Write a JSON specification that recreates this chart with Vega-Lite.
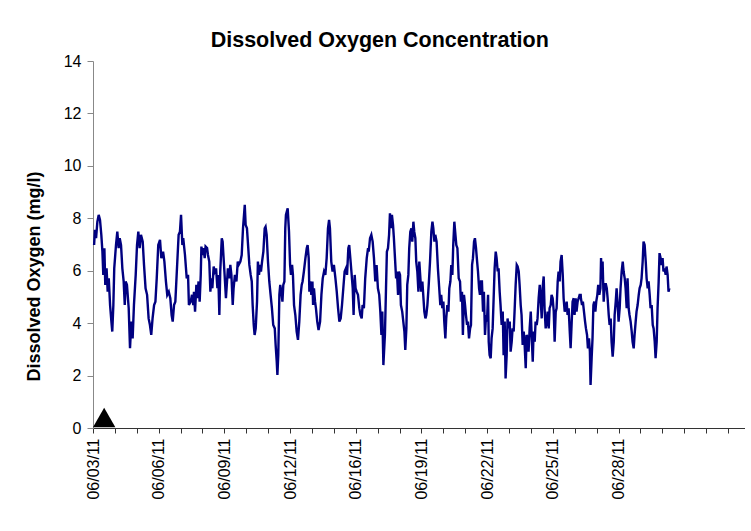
{
  "$schema": "https://vega.github.io/schema/vega-lite/v6.json",
  "width": 651.5,
  "height": 367,
  "autosize": "none",
  "padding": {"left": 93, "top": 61, "right": 6, "bottom": 103},
  "background": "white",
  "config": {"view": {"stroke": null}, "font": "Liberation Sans"},
  "title": {"text": "Dissolved Oxygen Concentration", "font": "Liberation Sans", "fontSize": 21.5, "fontWeight": "bold", "color": "black", "anchor": "middle", "dx": -39, "offset": 2},
  "datasets": {
    "do": [
      {"day":0.05,"value":6.98},{"day":0.09,"value":7.56},{"day":0.14,"value":7.24},{"day":0.20,"value":7.87},{"day":0.26,"value":8.13},{"day":0.32,"value":7.94},{"day":0.38,"value":7.37},{"day":0.43,"value":6.73},{"day":0.47,"value":5.84},{"day":0.52,"value":6.86},{"day":0.56,"value":5.46},{"day":0.62,"value":6.09},{"day":0.67,"value":5.20},{"day":0.72,"value":5.71},{"day":0.78,"value":4.69},{"day":0.84,"value":4.06},{"day":0.88,"value":3.68},{"day":0.93,"value":4.69},{"day":0.97,"value":6.09},{"day":1.05,"value":6.98},{"day":1.11,"value":7.49},{"day":1.17,"value":6.86},{"day":1.22,"value":7.24},{"day":1.28,"value":6.98},{"day":1.34,"value":6.09},{"day":1.40,"value":5.59},{"day":1.45,"value":4.69},{"day":1.49,"value":5.59},{"day":1.55,"value":5.46},{"day":1.63,"value":4.57},{"day":1.69,"value":3.04},{"day":1.75,"value":4.06},{"day":1.81,"value":3.42},{"day":1.87,"value":4.69},{"day":1.95,"value":5.84},{"day":2.01,"value":6.98},{"day":2.07,"value":7.49},{"day":2.13,"value":6.86},{"day":2.19,"value":7.37},{"day":2.27,"value":7.11},{"day":2.33,"value":6.22},{"day":2.40,"value":5.33},{"day":2.47,"value":5.08},{"day":2.54,"value":4.18},{"day":2.60,"value":3.93},{"day":2.66,"value":3.55},{"day":2.72,"value":4.18},{"day":2.79,"value":4.69},{"day":2.85,"value":4.82},{"day":2.91,"value":5.71},{"day":2.98,"value":6.98},{"day":3.06,"value":7.18},{"day":3.12,"value":6.48},{"day":3.20,"value":6.73},{"day":3.26,"value":6.35},{"day":3.33,"value":5.59},{"day":3.39,"value":5.08},{"day":3.46,"value":5.20},{"day":3.53,"value":4.95},{"day":3.59,"value":4.31},{"day":3.64,"value":4.06},{"day":3.70,"value":4.69},{"day":3.76,"value":4.82},{"day":3.85,"value":6.35},{"day":3.91,"value":7.37},{"day":3.97,"value":7.49},{"day":4.02,"value":8.13},{"day":4.08,"value":6.98},{"day":4.12,"value":7.24},{"day":4.20,"value":6.60},{"day":4.28,"value":5.71},
      {"day":4.34,"value":5.84},{"day":4.38,"value":4.69},{"day":4.46,"value":4.82},{"day":4.52,"value":5.08},{"day":4.58,"value":4.69},{"day":4.61,"value":5.20},{"day":4.66,"value":4.44},{"day":4.72,"value":5.46},{"day":4.76,"value":4.95},{"day":4.82,"value":5.59},{"day":4.87,"value":4.82},{"day":4.92,"value":5.84},{"day":4.95,"value":6.92},{"day":5.01,"value":6.60},{"day":5.05,"value":6.86},{"day":5.10,"value":6.48},{"day":5.14,"value":6.92},{"day":5.21,"value":6.86},{"day":5.25,"value":6.60},{"day":5.31,"value":6.35},{"day":5.36,"value":5.20},{"day":5.40,"value":5.71},{"day":5.45,"value":5.33},{"day":5.51,"value":6.16},{"day":5.56,"value":5.97},{"day":5.62,"value":6.09},{"day":5.68,"value":5.33},{"day":5.72,"value":5.84},{"day":5.77,"value":4.31},{"day":5.81,"value":5.97},{"day":5.88,"value":7.24},{"day":5.92,"value":7.11},{"day":5.95,"value":6.67},{"day":6.01,"value":5.84},{"day":6.07,"value":4.95},{"day":6.12,"value":5.59},{"day":6.16,"value":6.09},{"day":6.23,"value":5.71},{"day":6.27,"value":6.22},{"day":6.32,"value":5.84},{"day":6.38,"value":4.69},{"day":6.42,"value":5.33},{"day":6.48,"value":5.84},{"day":6.55,"value":5.59},{"day":6.61,"value":6.35},{"day":6.65,"value":6.22},{"day":6.73,"value":6.35},{"day":6.79,"value":6.60},{"day":6.85,"value":7.62},{"day":6.93,"value":8.51},{"day":6.97,"value":7.75},{"day":7.03,"value":7.62},{"day":7.09,"value":6.86},{"day":7.14,"value":6.22},{"day":7.20,"value":5.84},{"day":7.25,"value":5.59},{"day":7.29,"value":4.69},{"day":7.34,"value":3.93},{"day":7.38,"value":3.55},{"day":7.43,"value":3.80},{"day":7.49,"value":4.82},{"day":7.53,"value":6.35},{"day":7.58,"value":5.84},{"day":7.63,"value":6.22},{"day":7.67,"value":5.97},{"day":7.72,"value":6.35},{"day":7.78,"value":6.73},{"day":7.84,"value":7.62},{"day":7.88,"value":7.68},{"day":7.93,"value":7.37},{"day":7.99,"value":6.35},{"day":8.05,"value":5.59},{"day":8.11,"value":5.08},{"day":8.17,"value":4.57},{"day":8.23,"value":3.93},{"day":8.30,"value":3.80},{"day":8.34,"value":3.17},{"day":8.39,"value":2.53},{"day":8.42,"value":2.02},{"day":8.46,"value":2.78},{"day":8.51,"value":5.08},{"day":8.55,"value":5.46},{"day":8.60,"value":5.20},{"day":8.65,"value":4.82},{"day":8.69,"value":5.46},{"day":8.74,"value":5.59},{"day":8.78,"value":7.62},
      {"day":8.81,"value":8.13},{"day":8.89,"value":8.38},{"day":8.95,"value":7.49},{"day":9.00,"value":6.22},{"day":9.04,"value":5.84},{"day":9.09,"value":6.22},{"day":9.13,"value":5.84},{"day":9.18,"value":4.69},{"day":9.24,"value":4.31},{"day":9.30,"value":3.68},{"day":9.36,"value":3.36},{"day":9.42,"value":4.06},{"day":9.48,"value":5.08},{"day":9.53,"value":5.46},{"day":9.57,"value":5.59},{"day":9.63,"value":5.97},{"day":9.70,"value":6.48},{"day":9.76,"value":6.86},{"day":9.80,"value":6.98},{"day":9.85,"value":6.48},{"day":9.88,"value":5.20},{"day":9.92,"value":5.59},{"day":9.97,"value":5.08},{"day":10.02,"value":5.59},{"day":10.05,"value":4.69},{"day":10.09,"value":5.33},{"day":10.14,"value":4.82},{"day":10.18,"value":4.57},{"day":10.24,"value":4.06},{"day":10.30,"value":3.74},{"day":10.37,"value":4.06},{"day":10.43,"value":5.08},{"day":10.49,"value":5.71},{"day":10.55,"value":5.97},{"day":10.61,"value":5.84},{"day":10.67,"value":6.48},{"day":10.73,"value":7.62},{"day":10.78,"value":7.94},{"day":10.82,"value":7.62},{"day":10.88,"value":6.35},{"day":10.94,"value":5.97},{"day":11.00,"value":6.22},{"day":11.07,"value":5.71},{"day":11.13,"value":5.20},{"day":11.19,"value":4.57},{"day":11.25,"value":4.06},{"day":11.31,"value":4.18},{"day":11.37,"value":4.69},{"day":11.43,"value":5.33},{"day":11.49,"value":5.97},{"day":11.55,"value":6.09},{"day":11.60,"value":5.84},{"day":11.66,"value":6.86},{"day":11.70,"value":6.98},{"day":11.75,"value":6.48},{"day":11.80,"value":5.97},{"day":11.86,"value":5.33},{"day":11.90,"value":4.31},{"day":11.95,"value":5.84},{"day":11.99,"value":5.33},{"day":12.04,"value":5.20},{"day":12.10,"value":5.08},{"day":12.16,"value":4.57},{"day":12.21,"value":4.31},{"day":12.27,"value":4.18},{"day":12.31,"value":4.69},{"day":12.37,"value":4.57},{"day":12.43,"value":5.71},{"day":12.50,"value":6.48},{"day":12.56,"value":6.86},{"day":12.59,"value":6.73},{"day":12.65,"value":7.24},{"day":12.71,"value":7.37},{"day":12.77,"value":7.11},{"day":12.83,"value":6.48},{"day":12.89,"value":5.59},{"day":12.95,"value":6.22},{"day":13.01,"value":5.33},{"day":13.07,"value":5.08},{"day":13.12,"value":4.44},{"day":13.17,"value":3.55},{"day":13.21,"value":4.44},{"day":13.26,"value":2.40},
      {"day":13.33,"value":3.55},{"day":13.38,"value":5.33},{"day":13.42,"value":6.73},{"day":13.47,"value":6.86},{"day":13.52,"value":7.37},{"day":13.56,"value":8.19},{"day":13.61,"value":7.62},{"day":13.65,"value":8.13},{"day":13.70,"value":7.75},{"day":13.74,"value":7.24},{"day":13.79,"value":6.48},{"day":13.84,"value":5.71},{"day":13.88,"value":5.97},{"day":13.93,"value":5.08},{"day":13.97,"value":5.97},{"day":14.02,"value":5.84},{"day":14.06,"value":4.69},{"day":14.12,"value":4.44},{"day":14.17,"value":4.06},{"day":14.22,"value":3.68},{"day":14.26,"value":2.98},{"day":14.31,"value":3.80},{"day":14.35,"value":5.46},{"day":14.40,"value":5.84},{"day":14.44,"value":6.86},{"day":14.49,"value":7.49},{"day":14.54,"value":7.62},{"day":14.58,"value":7.11},{"day":14.63,"value":7.87},{"day":14.67,"value":7.49},{"day":14.72,"value":7.24},{"day":14.76,"value":6.35},{"day":14.81,"value":5.97},{"day":14.86,"value":5.20},{"day":14.90,"value":6.35},{"day":14.95,"value":5.71},{"day":14.99,"value":5.20},{"day":15.04,"value":5.59},{"day":15.08,"value":5.08},{"day":15.13,"value":4.44},{"day":15.18,"value":4.18},{"day":15.22,"value":4.31},{"day":15.27,"value":4.69},{"day":15.33,"value":5.46},{"day":15.39,"value":6.35},{"day":15.45,"value":7.49},{"day":15.50,"value":7.87},{"day":15.54,"value":7.62},{"day":15.59,"value":7.11},{"day":15.63,"value":7.37},{"day":15.69,"value":7.11},{"day":15.75,"value":6.09},{"day":15.81,"value":5.33},{"day":15.86,"value":4.69},{"day":15.90,"value":5.08},{"day":15.95,"value":4.57},{"day":16.00,"value":4.82},{"day":16.04,"value":4.06},{"day":16.09,"value":3.42},{"day":16.13,"value":4.18},{"day":16.18,"value":4.69},{"day":16.23,"value":4.44},{"day":16.27,"value":5.33},{"day":16.32,"value":5.59},{"day":16.36,"value":6.22},{"day":16.41,"value":5.84},{"day":16.45,"value":6.98},{"day":16.50,"value":7.87},{"day":16.55,"value":7.37},{"day":16.59,"value":6.98},{"day":16.64,"value":6.86},{"day":16.70,"value":5.71},{"day":16.76,"value":5.59},{"day":16.80,"value":4.82},{"day":16.85,"value":5.20},{"day":16.89,"value":3.55},{"day":16.94,"value":5.08},{"day":16.99,"value":4.69},{"day":17.03,"value":4.31},{"day":17.08,"value":3.93},{"day":17.12,"value":4.06},{"day":17.17,"value":3.42},{"day":17.22,"value":3.80},{"day":17.26,"value":3.93},{"day":17.31,"value":6.22},{"day":17.35,"value":6.48},{"day":17.40,"value":7.11},{"day":17.44,"value":7.24},{"day":17.49,"value":6.86},{"day":17.54,"value":6.35},{"day":17.58,"value":5.97},{"day":17.63,"value":5.33},{"day":17.67,"value":5.08},{"day":17.72,"value":5.59},
      {"day":17.76,"value":5.59},{"day":17.81,"value":4.44},{"day":17.85,"value":5.20},{"day":17.90,"value":3.55},{"day":17.95,"value":4.31},{"day":17.99,"value":4.06},{"day":18.04,"value":5.08},{"day":18.07,"value":3.29},{"day":18.11,"value":2.78},{"day":18.16,"value":2.66},{"day":18.20,"value":3.42},{"day":18.25,"value":3.80},{"day":18.30,"value":5.08},{"day":18.34,"value":6.09},{"day":18.39,"value":6.73},{"day":18.43,"value":6.48},{"day":18.48,"value":5.97},{"day":18.52,"value":6.09},{"day":18.57,"value":5.20},{"day":18.61,"value":4.69},{"day":18.66,"value":3.93},{"day":18.71,"value":4.44},{"day":18.75,"value":2.78},{"day":18.80,"value":4.06},{"day":18.84,"value":1.89},{"day":18.89,"value":2.78},{"day":18.93,"value":4.18},{"day":18.98,"value":3.80},{"day":19.03,"value":4.06},{"day":19.07,"value":2.91},{"day":19.12,"value":3.29},{"day":19.16,"value":3.80},{"day":19.21,"value":3.68},{"day":19.25,"value":4.44},{"day":19.30,"value":5.46},{"day":19.35,"value":6.22},{"day":19.39,"value":6.16},{"day":19.44,"value":5.97},{"day":19.48,"value":5.46},{"day":19.53,"value":4.69},{"day":19.57,"value":4.31},{"day":19.62,"value":3.17},{"day":19.67,"value":3.68},{"day":19.71,"value":3.17},{"day":19.76,"value":2.28},{"day":19.80,"value":3.55},{"day":19.85,"value":3.42},{"day":19.89,"value":2.91},{"day":19.94,"value":3.80},{"day":19.99,"value":4.44},{"day":20.03,"value":3.55},{"day":20.08,"value":2.53},{"day":20.12,"value":3.68},{"day":20.17,"value":3.29},{"day":20.21,"value":4.06},{"day":20.26,"value":3.93},{"day":20.30,"value":4.18},{"day":20.35,"value":4.95},{"day":20.40,"value":5.46},{"day":20.44,"value":4.95},{"day":20.49,"value":4.18},{"day":20.53,"value":5.33},{"day":20.58,"value":5.78},{"day":20.62,"value":4.57},{"day":20.67,"value":3.80},{"day":20.72,"value":4.06},{"day":20.76,"value":4.44},{"day":20.81,"value":3.80},{"day":20.85,"value":4.57},{"day":20.90,"value":4.69},{"day":20.94,"value":5.08},{"day":20.99,"value":4.95},{"day":21.04,"value":4.44},{"day":21.08,"value":3.29},{"day":21.13,"value":4.44},{"day":21.17,"value":4.57},{"day":21.22,"value":5.59},{"day":21.26,"value":5.97},{"day":21.31,"value":5.59},{"day":21.35,"value":6.35},{"day":21.40,"value":6.60},{"day":21.45,"value":5.84},{"day":21.49,"value":4.95},{"day":21.54,"value":4.44},{"day":21.58,"value":4.57},{"day":21.63,"value":4.82},{"day":21.67,"value":4.31},{"day":21.72,"value":4.57},{"day":21.77,"value":3.68},{"day":21.81,"value":3.04},{"day":21.86,"value":4.06},{"day":21.90,"value":4.82},{"day":21.95,"value":4.95},{"day":21.99,"value":4.31},{"day":22.04,"value":4.95},{"day":22.08,"value":4.44},{"day":22.13,"value":4.82},{"day":22.18,"value":4.95},{"day":22.22,"value":5.08},{"day":22.27,"value":5.08},
      {"day":22.28,"value":4.95},{"day":22.33,"value":4.69},{"day":22.37,"value":4.82},{"day":22.42,"value":4.44},{"day":22.47,"value":4.06},{"day":22.51,"value":3.80},{"day":22.56,"value":3.55},{"day":22.60,"value":3.04},{"day":22.65,"value":3.42},{"day":22.69,"value":2.91},{"day":22.72,"value":1.64},{"day":22.77,"value":2.66},{"day":22.81,"value":3.42},{"day":22.85,"value":4.69},{"day":22.89,"value":4.82},{"day":22.94,"value":4.44},{"day":22.98,"value":4.82},{"day":23.03,"value":5.08},{"day":23.07,"value":5.46},{"day":23.12,"value":5.08},{"day":23.17,"value":5.33},{"day":23.20,"value":6.48},{"day":23.23,"value":5.71},{"day":23.27,"value":6.35},{"day":23.32,"value":4.82},{"day":23.36,"value":5.33},{"day":23.41,"value":5.52},{"day":23.46,"value":5.33},{"day":23.50,"value":4.95},{"day":23.55,"value":4.31},{"day":23.59,"value":3.93},{"day":23.64,"value":4.18},{"day":23.68,"value":3.29},{"day":23.73,"value":2.72},{"day":23.78,"value":3.29},{"day":23.82,"value":4.31},{"day":23.87,"value":4.82},{"day":23.91,"value":5.33},{"day":23.96,"value":4.69},{"day":24.00,"value":4.06},{"day":24.05,"value":4.57},{"day":24.09,"value":5.33},{"day":24.14,"value":5.97},{"day":24.19,"value":6.35},{"day":24.23,"value":5.97},{"day":24.28,"value":5.71},{"day":24.32,"value":5.33},{"day":24.37,"value":4.57},{"day":24.41,"value":5.71},{"day":24.46,"value":4.57},{"day":24.50,"value":4.31},{"day":24.55,"value":4.06},{"day":24.60,"value":3.68},{"day":24.64,"value":3.29},{"day":24.69,"value":3.04},{"day":24.73,"value":3.55},{"day":24.78,"value":4.06},{"day":24.82,"value":4.44},{"day":24.87,"value":4.69},{"day":24.92,"value":5.08},{"day":24.96,"value":5.33},{"day":25.01,"value":5.46},{"day":25.05,"value":5.71},{"day":25.10,"value":6.35},{"day":25.14,"value":7.11},{"day":25.19,"value":6.98},{"day":25.24,"value":6.35},{"day":25.28,"value":5.71},{"day":25.33,"value":5.33},{"day":25.37,"value":5.59},{"day":25.42,"value":5.08},{"day":25.46,"value":4.57},{"day":25.51,"value":4.69},{"day":25.56,"value":3.93},{"day":25.60,"value":3.80},{"day":25.65,"value":3.29},{"day":25.69,"value":2.66},{"day":25.74,"value":3.29},{"day":25.78,"value":4.57},{"day":25.83,"value":5.59},{"day":25.87,"value":6.67},{"day":25.92,"value":6.48},{"day":25.96,"value":6.22},{"day":26.01,"value":6.48},{"day":26.05,"value":5.97},{"day":26.10,"value":6.09},{"day":26.15,"value":5.84},{"day":26.19,"value":6.16},{"day":26.24,"value":5.84},{"day":26.28,"value":5.20},{"day":26.32,"value":5.33}
    ],
    "event": [{"day": 0.51, "value": 0.4}]
  },
  "layer": [
    {
      "data": {"name": "do"},
      "mark": {"type": "line", "color": "#000080", "strokeWidth": 2.4},
      "encoding": {
        "x": {
          "field": "day", "type": "quantitative",
          "scale": {"domain": [0, 29.75], "nice": false, "zero": false},
          "axis": {
            "title": null,
            "values": [0,1,2,3,4,5,6,7,8,9,10,11,12,13,14,15,16,17,18,19,20,21,22,23,24,25,26,27,28,29],
            "tickCount": 40,
            "labelExpr": "datum.value % 3 === 0 && datum.value <= 24 ? ['06/03/11','06/06/11','06/09/11','06/12/11','06/16/11','06/19/11','06/22/11','06/25/11','06/28/11'][datum.value / 3] : ''",
            "labelAngle": -90,
            "labelFont": "Liberation Sans",
            "labelFontSize": 16,
            "labelColor": "black",
            "labelOverlap": false,
            "labelFlush": false,
            "labelBound": false,
            "labelPadding": 5,
            "tickSize": 5,
            "tickColor": "#333333",
            "domainColor": "#333333",
            "grid": false
          }
        },
        "y": {
          "field": "value", "type": "quantitative",
          "scale": {"domain": [0, 14], "nice": false},
          "axis": {
            "title": "Dissolved Oxygen (mg/l)",
            "titleFont": "Liberation Sans",
            "titleFontSize": 18,
            "titleFontWeight": "bold",
            "titleColor": "black",
            "titlePadding": 20,
            "titleY": 215,
            "values": [0,2,4,6,8,10,12,14],
            "labelFont": "Liberation Sans",
            "labelFontSize": 16,
            "labelColor": "black",
            "labelPadding": 6,
            "tickSize": 6,
            "tickColor": "#888888",
            "domainColor": "#888888",
            "grid": false
          }
        }
      }
    },
    {
      "data": {"name": "event"},
      "mark": {"type": "point", "shape": "triangle-up", "filled": true, "color": "black", "size": 500, "opacity": 1},
      "encoding": {
        "x": {"field": "day", "type": "quantitative"},
        "y": {"field": "value", "type": "quantitative"}
      }
    }
  ]
}
